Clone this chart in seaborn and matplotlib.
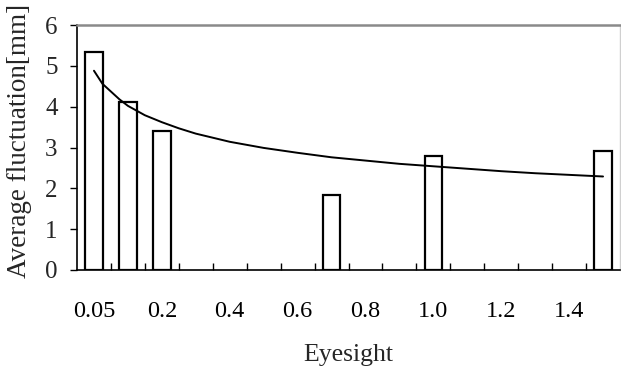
import numpy as np
import pandas as pd
import matplotlib
matplotlib.use("Agg")
import matplotlib.pyplot as plt
import seaborn as sns

# ---- data ----
categories = ["0.05", "0.1", "0.2", "0.3", "0.4", "0.5", "0.6", "0.7",
              "0.8", "0.9", "1.0", "1.1", "1.2", "1.3", "1.4", "1.5"]
bar_eyesight = ["0.05", "0.1", "0.2", "0.7", "1.0", "1.5"]
bar_values = [5.35, 4.11, 3.41, 1.84, 2.78, 2.92]

# trend curve (position in category index, value)
curve_pos = [0, 0.25, 0.5, 0.75, 1, 1.5, 2, 2.5, 3, 4, 5, 6, 7, 8, 9, 10,
             11, 12, 13, 14, 15]
curve_val = [4.88, 4.56, 4.37, 4.18, 4.02, 3.79, 3.62, 3.47, 3.34, 3.14,
             2.99, 2.87, 2.76, 2.68, 2.60, 2.54, 2.48, 2.42, 2.37, 2.33, 2.29]

tick_labels = ["0.05", "0.2", "0.4", "0.6", "0.8", "1.0", "1.2", "1.4"]
y_ticks = [0, 1, 2, 3, 4, 5, 6]

# ---- style ----
sns.set_theme(style="white")
plt.rcParams["font.family"] = ["Liberation Serif", "DejaVu Serif"]

fig = plt.figure(figsize=(6.21, 3.70), dpi=100)
ax = fig.add_axes([77 / 621, 1 - 270 / 370, 543 / 621, 245 / 370])

df = pd.DataFrame({"Eyesight": bar_eyesight, "Fluct": bar_values})
sns.barplot(data=df, x="Eyesight", y="Fluct", order=categories,
            color="white", edgecolor="black", linewidth=1.6, width=0.52,
            errorbar=None, ax=ax)
for p in ax.patches:
    p.set_facecolor("white")

ax.plot(curve_pos, curve_val, color="black", lw=1.4, zorder=3)

ax.set_xlim(-0.5, len(categories) - 0.5)
ax.set_ylim(0, 6)
ax.set_yticks(y_ticks)
ax.set_yticklabels([str(v) for v in y_ticks], fontsize=18)

major_pos = [categories.index(l) for l in tick_labels]
ax.set_xticks(major_pos)
ax.set_xticklabels(tick_labels, fontsize=17.5)
ax.set_xticks(np.arange(0.5, len(categories) - 1, 1.0), minor=True)

ax.tick_params(axis="x", which="major", length=0, pad=22, colors="black")
ax.tick_params(axis="x", which="minor", direction="in", length=5,
               width=1, color="black", bottom=True)
ax.tick_params(axis="y", which="major", direction="out", length=5,
               width=1, color="black", left=True, pad=9)

ax.set_xlabel("Eyesight", fontsize=18.5, labelpad=16)
ax.set_ylabel("Average fluctuation[mm]", fontsize=19.5)
ax.yaxis.set_label_coords(-0.082, 0.527)

for side in ["left", "bottom"]:
    ax.spines[side].set_color("black")
    ax.spines[side].set_linewidth(1.2)
ax.spines["top"].set_color("#8a8a8a")
ax.spines["top"].set_linewidth(1.8)
ax.spines["right"].set_color("#d0d0d0")
ax.spines["right"].set_linewidth(1.0)
for s in ax.spines.values():
    s.set_visible(True)

fig.savefig("out.png", dpi=100)
